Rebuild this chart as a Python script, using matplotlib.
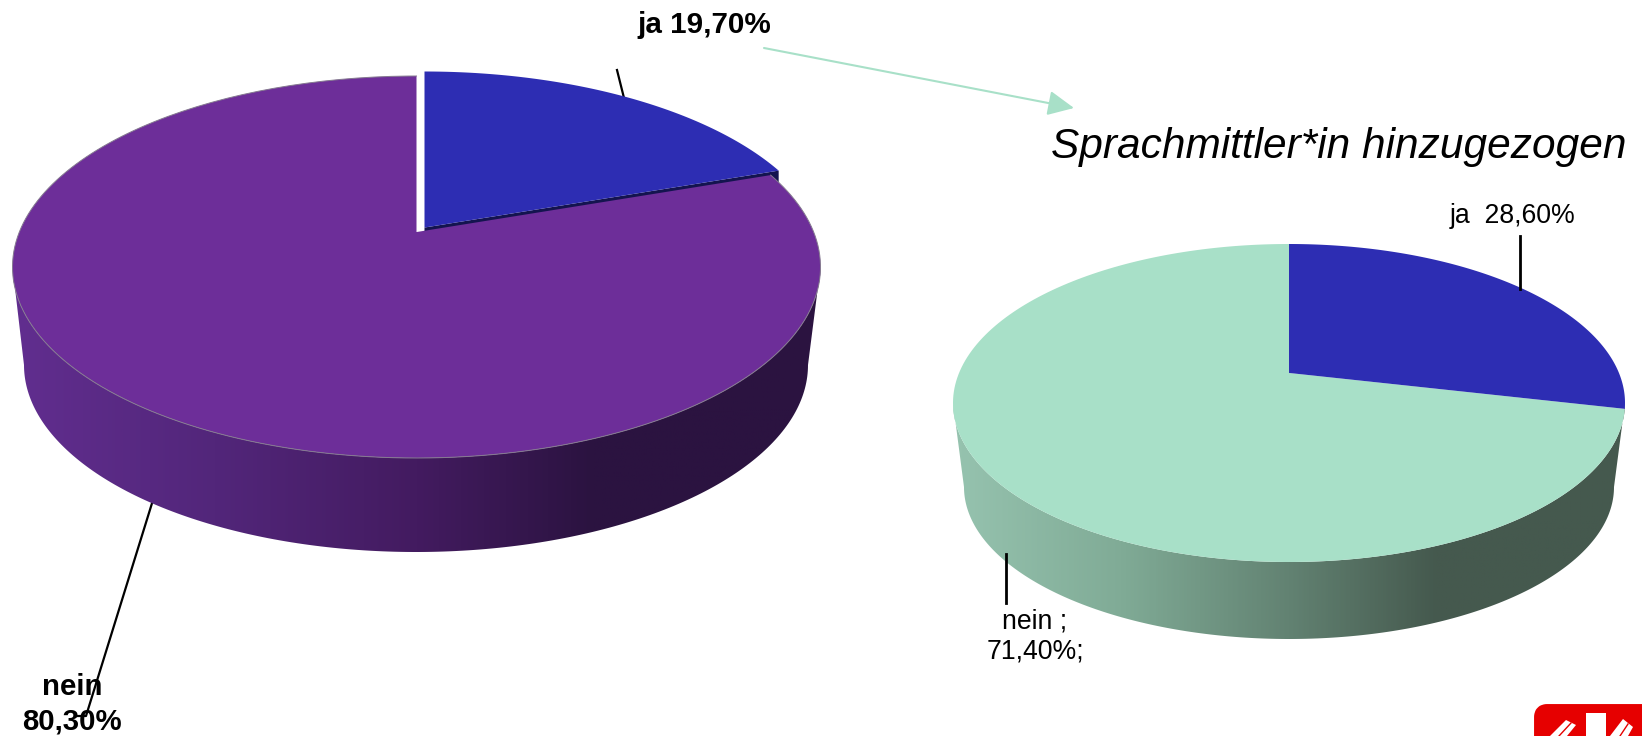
import numpy as np
import matplotlib
matplotlib.use('Agg')
import matplotlib.pyplot as plt
from matplotlib.colors import LinearSegmentedColormap
from matplotlib.patches import Polygon, FancyBboxPatch

plt.rcParams['font.family'] = ['Liberation Sans', 'DejaVu Sans']

# === DATA ===
left_labels = ['ja 19,70%', 'nein\n80,30%']
left_values = [19.7, 80.3]
right_labels = ['ja  28,60%', 'nein ;\n71,40%;']
right_values = [28.6, 71.4]
right_title = 'Sprachmittler*in hinzugezogen'

# === COLOURS ===
BLUE = '#2d2db3'
BLUE_DARK = '#14144f'
PURPLE = '#6d2e99'
GREEN = '#a8e0c8'
purple_wall = LinearSegmentedColormap.from_list('pw', [(0, '#612e8f'), (0.25, '#52267a'), (0.5, '#431b60'),
                                                       (0.72, '#2b1340'), (1, '#2b1340')])
green_wall = LinearSegmentedColormap.from_list('gw', [(0, '#96c3af'), (0.25, '#80ab96'), (0.5, '#628272'),
                                                      (0.72, '#45594e'), (1, '#45594e')])

fig = plt.figure(figsize=(16.42, 7.36), dpi=100)
ax = fig.add_axes([0, 0, 1, 1])


def rim(theta, cx, cy, rx, ry, tilt):
    # point on the rim, theta clockwise from 12 o'clock, with perspective tilt
    u, v = np.sin(theta), np.cos(theta)
    d = 1 + tilt * v
    return cx + rx * u * np.sqrt(1 - tilt ** 2) / d, cy - ry * (v + tilt) / d


def wedge(start, end, cx, cy, rx, ry, tilt, dx=0, dy=0):
    t = np.linspace(start, end, 200)
    x, y = rim(t, cx, cy, rx, ry, tilt)
    apex = (cx + dx, cy - ry * tilt + dy)
    return np.vstack([apex, np.column_stack([x + dx, y + dy])])


def draw_wall(top, bottom, cmap):
    t = np.linspace(0, np.pi, 200)
    upper = np.column_stack([top[0] + top[2] * np.cos(t), top[1] + top[3] * np.sin(t)])
    lower = np.column_stack([bottom[0] + bottom[2] * np.cos(t), bottom[1] + bottom[3] * np.sin(t)])
    wall = Polygon(np.vstack([upper, lower[::-1]]), closed=True, fc='none', ec='none')
    ax.add_patch(wall)
    grad = np.linspace(0, 1, 400).reshape(1, -1)
    im = ax.imshow(grad, cmap=cmap, aspect='auto', zorder=2,
                   extent=(top[0] - top[2], top[0] + top[2], bottom[1] + bottom[3], top[1]))
    im.set_clip_path(wall)


# === Left pie ===
L = (416.5, 267, 404, 191, 0.183)
a = 2 * np.pi * left_values[0] / sum(left_values)
blue_shift = (8, -4.5)

# cut face of the pulled out slice, mostly hidden by the big one
edge = wedge(0, a, *L, *blue_shift)
face = np.array([edge[0], edge[-1], edge[-1] + [0, 94], edge[0] + [0, 94]])
ax.add_patch(Polygon(face, closed=True, fc=BLUE_DARK, ec='none', zorder=1))
ax.add_patch(Polygon(edge, closed=True, fc=BLUE, ec='none', zorder=1.5))

draw_wall(L[:4], (416, 365, 392, 187), purple_wall)
big = wedge(a, 2 * np.pi, *L)
ax.add_patch(Polygon(big, closed=True, fc=PURPLE, ec='none', zorder=3))
ax.plot(big[1:, 0], big[1:, 1], color='#857a90', lw=0.7, zorder=3)

# === Right pie ===
R = (1289, 403, 336, 159, 0.189)
b = 2 * np.pi * right_values[0] / sum(right_values)
draw_wall(R[:4], (1289, 487, 325, 152), green_wall)
ax.add_patch(Polygon(wedge(b, 2 * np.pi, *R), closed=True, fc=GREEN, ec='none', zorder=3))
ax.add_patch(Polygon(wedge(0, b, *R), closed=True, fc=BLUE, ec='none', zorder=3))

# === Leader lines ===
ax.plot([617, 624], [70, 98], color='black', lw=1.6, zorder=1)
ax.plot([153, 86, 75], [500, 716, 716], color='black', lw=1.6, zorder=1)
ax.plot([1520, 1520], [236, 289], color='black', lw=2, zorder=4)
ax.plot([1006, 1006], [554, 603], color='black', lw=2, zorder=4)

# === Arrow ===
ax.annotate('', xy=(1074, 108), xytext=(764, 48), zorder=4,
            arrowprops=dict(arrowstyle='-|>,head_length=0.8,head_width=0.38', color=GREEN, lw=1.5,
                            shrinkA=0, shrinkB=0, mutation_scale=20))

# === Text ===
ax.text(637, 33, left_labels[0], fontsize=21.3, fontweight='bold', va='baseline', ha='left', zorder=5)
ax.text(72, 695, left_labels[1].split('\n')[0], fontsize=21.2, fontweight='bold', va='baseline', ha='center', zorder=5)
ax.text(72, 730, left_labels[1].split('\n')[1], fontsize=21.2, fontweight='bold', va='baseline', ha='center', zorder=5)
ax.text(1051, 158, right_title, fontsize=30.5, style='italic', va='baseline', ha='left', zorder=5)
ax.text(1450, 223, right_labels[0], fontsize=19.2, va='baseline', ha='left', zorder=5)
ax.text(1035, 628, right_labels[1].split('\n')[0], fontsize=19.2, va='baseline', ha='center', zorder=5)
ax.text(1035, 659, right_labels[1].split('\n')[1], fontsize=19.2, va='baseline', ha='center', zorder=5)

# === Logo in the corner, cut off by the page ===
ax.add_patch(FancyBboxPatch((1541, 711), 140, 60, boxstyle='round,pad=0,rounding_size=6',
                            mutation_aspect=1, fc='#e60000', ec='#e60000', lw=10, joinstyle='round', zorder=5))
for pts in ([(1586, 713), (1606, 713), (1606, 736), (1586, 736)],
            [(1550, 736), (1566, 720), (1576, 725), (1567, 736)],
            [(1610, 736), (1623, 719), (1633, 727), (1628, 736)]):
    ax.add_patch(Polygon(pts, closed=True, fc='white', ec='none', zorder=6))
ax.plot([1559, 1571], [736, 723], color='#e60000', lw=1, zorder=7)
ax.plot([1620, 1628], [736, 724], color='#e60000', lw=1, zorder=7)

ax.set_xlim(0, 1642)
ax.set_ylim(736, 0)
ax.axis('off')

fig.savefig('out.png', dpi=100, facecolor='white')
